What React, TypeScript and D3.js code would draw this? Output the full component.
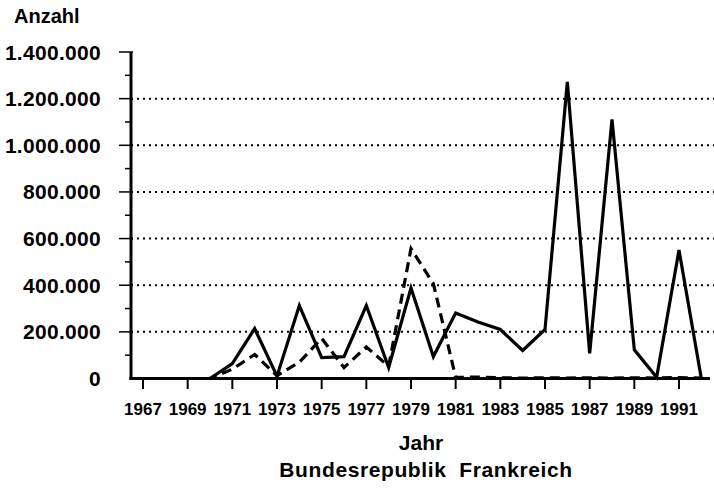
import React from "react";
import * as d3 from "d3";

const years = [1967,1968,1969,1970,1971,1972,1973,1974,1975,1976,1977,1978,1979,1980,1981,1982,1983,1984,1985,1986,1987,1988,1989,1990,1991,1992];
const bundesrepublik = [0,0,0,0,64000,214000,10000,313000,90000,94000,313000,47000,388000,94000,281000,242000,210000,120000,210000,1272000,108000,1111000,123000,5000,551000,0];
const frankreich = [0,0,0,0,40000,103000,12000,70000,172000,47000,135000,52000,557000,407000,5000,6000,3000,2000,3000,2000,3000,2000,3000,2000,4000,2000];
const xTickYears = [1967,1969,1971,1973,1975,1977,1979,1981,1983,1985,1987,1989,1991];
const yMajorTicks = [0,200000,400000,600000,800000,1000000,1200000,1400000];
const yMinorTicks = [100000,300000,500000,700000,900000,1100000,1300000];
const gridTicks = [200000,400000,600000,800000,1000000,1200000];

const de = d3.formatLocale({ decimal: ",", thousands: ".", grouping: [3], currency: ["", " €"] });
const fmt = de.format(",");

export default function App() {
  const W = 714, H = 491;
  const axisX = 131, axisRight = 714;
  const x = d3.scaleLinear().domain([1967, 1991]).range([143, 679]);
  const y = d3.scaleLinear().domain([0, 1400000]).range([378.5, 52]);
  const line = d3.line<number>().x((_, i) => x(years[i])).y(d => y(d));
  const font = "'Liberation Sans', Arial, Helvetica, sans-serif";
  return (
    <div style={{ position: "fixed", left: 0, top: 0 }}>
      <svg width={W} height={H} style={{ display: "block", background: "#fff" }} fontFamily={font}>
        {gridTicks.map(t => (
          <line key={"g" + t} x1={axisX} x2={axisRight} y1={y(t)} y2={y(t)} stroke="#000" strokeWidth={2} strokeDasharray="2,4" />
        ))}
        <path d={line(frankreich) || ""} fill="none" stroke="#000" strokeWidth={3.2} strokeDasharray="10,6" strokeLinejoin="miter" />
        <path d={line(bundesrepublik) || ""} fill="none" stroke="#000" strokeWidth={3.2} strokeLinejoin="miter" />
        <line x1={axisX} x2={axisX} y1={52} y2={y(0) + 1.5} stroke="#000" strokeWidth={3} />
        <line x1={axisX - 1.5} x2={710} y1={y(0)} y2={y(0)} stroke="#000" strokeWidth={3} />
        {yMajorTicks.filter(t => t > 0).map(t => (
          <line key={"mj" + t} x1={axisX - 12} x2={axisX + 2} y1={y(t)} y2={y(t)} stroke="#000" strokeWidth={1.5} />
        ))}
        {yMinorTicks.map(t => (
          <line key={"mn" + t} x1={axisX - 6} x2={axisX} y1={y(t)} y2={y(t)} stroke="#000" strokeWidth={1.5} />
        ))}
        {yMajorTicks.map(t => (
          <text key={"yl" + t} x={101} y={y(t) + 2} textAnchor="end" dominantBaseline="middle" fontSize={21} fontWeight="bold" letterSpacing={0.3}>
            {fmt(t)}
          </text>
        ))}
        {xTickYears.map(t => (
          <g key={"xt" + t}>
            <line x1={x(t)} x2={x(t)} y1={y(0)} y2={389} stroke="#000" strokeWidth={2} />
            <text x={x(t)} y={415} textAnchor="middle" fontSize={17} fontWeight="bold">{t}</text>
          </g>
        ))}
        <text x={14} y={23} fontSize={20} fontWeight="bold">Anzahl</text>
        <text x={421} y={450} textAnchor="middle" fontSize={21} fontWeight="bold">Jahr</text>
        <text x={426} y={477} textAnchor="middle" fontSize={21} fontWeight="bold" letterSpacing={0.6} xmlSpace="preserve">Bundesrepublik  Frankreich</text>
      </svg>
    </div>
  );
}
